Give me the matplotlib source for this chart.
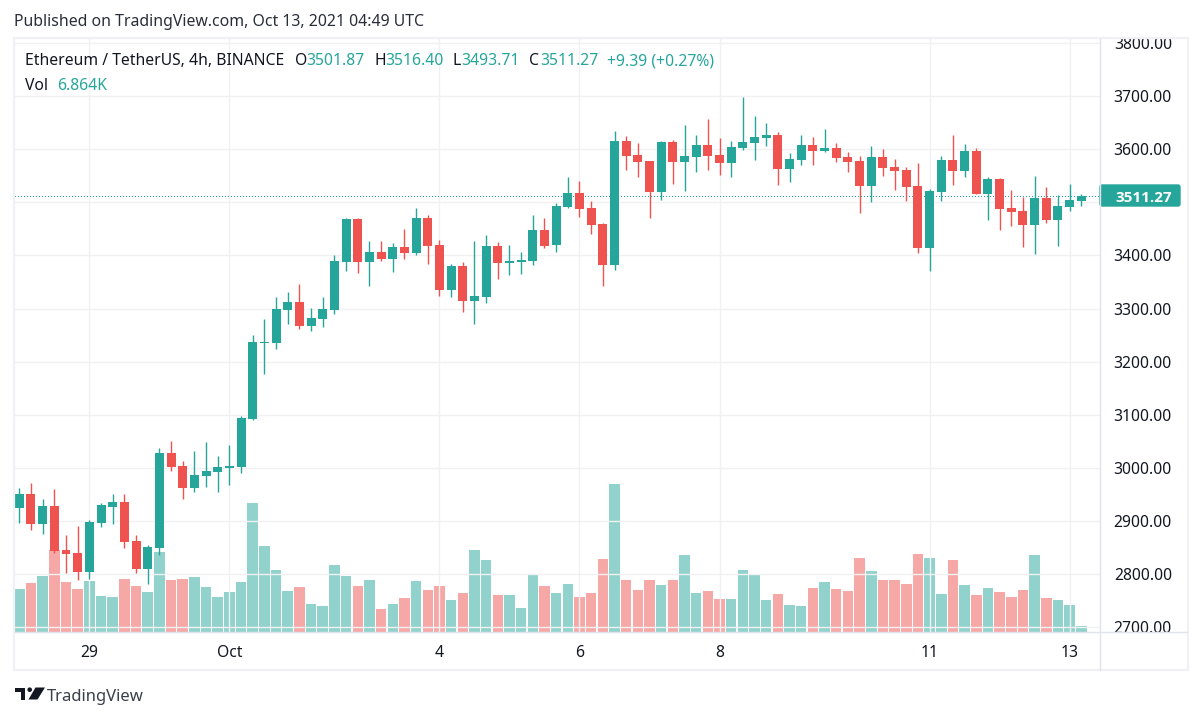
# Ethereum / TetherUS 4h candles with volume
import matplotlib
matplotlib.use("Agg")
import matplotlib.pyplot as plt
from matplotlib.patches import Polygon, Circle, Rectangle, FancyBboxPatch

# Data
opens = [2924.5, 2950.8, 2894.4, 2928.3, 2845.4, 2839.8, 2804.0, 2896.3, 2926.4, 2935.8,
         2862.4, 2809.7, 2849.2, 3028.0, 3003.5, 2962.1, 2984.7, 2992.2, 2999.8, 3001.6,
         3092.0, 3235.0, 3235.0, 3297.0, 3312.1, 3266.9, 3280.1, 3297.0, 3387.4, 3468.3,
         3387.4, 3406.2, 3393.0, 3415.6, 3404.3, 3470.2, 3419.4, 3334.7, 3379.8, 3314.0,
         3321.5, 3417.5, 3385.5, 3387.4, 3389.2, 3447.6, 3419.4, 3490.9, 3517.2, 3489.0,
         3458.9, 3381.7, 3615.1, 3588.9, 3577.6, 3519.2, 3613.3, 3575.7, 3585.1, 3607.7,
         3588.9, 3573.8, 3602.0, 3611.5, 3620.9, 3626.5, 3562.5, 3579.5, 3607.7, 3596.4,
         3602.0, 3585.1, 3577.6, 3530.5, 3585.1, 3566.3, 3560.6, 3530.5, 3413.8, 3519.2,
         3579.4, 3558.8, 3596.4, 3515.5, 3543.7, 3489.1, 3483.5, 3457.1, 3507.9, 3466.5,
         3491.0, 3501.87]
highs = [2962.1, 2971.5, 2941.4, 2960.2, 2873.7, 2890.6, 2901.9, 2933.9, 2950.8, 2950.8,
         2873.7, 2854.9, 3037.4, 3050.6, 3012.9, 3031.8, 3048.7, 3022.4, 3043.1, 3097.7,
         3250.1, 3280.2, 3321.6, 3330.9, 3346.0, 3300.8, 3321.5, 3400.5, 3470.2, 3470.2,
         3426.9, 3426.9, 3423.1, 3449.5, 3489.0, 3475.8, 3428.8, 3383.6, 3387.4, 3426.9,
         3438.2, 3425.0, 3419.4, 3406.2, 3475.8, 3470.2, 3498.4, 3547.3, 3539.8, 3502.2,
         3460.8, 3633.9, 3624.5, 3611.5, 3577.6, 3615.2, 3617.1, 3645.3, 3626.5, 3656.6,
         3620.9, 3615.2, 3698.0, 3662.3, 3649.1, 3632.2, 3592.6, 3626.5, 3622.8, 3637.8,
         3611.5, 3594.5, 3587.0, 3605.8, 3600.2, 3581.3, 3566.3, 3573.8, 3524.9, 3587.0,
         3626.5, 3609.6, 3602.0, 3547.5, 3545.6, 3523.0, 3509.8, 3549.3, 3528.6, 3513.6,
         3534.3, 3516.40]
lows = [2896.3, 2883.1, 2875.6, 2839.8, 2802.2, 2789.0, 2790.9, 2888.8, 2894.4, 2849.2,
        2802.2, 2781.5, 2836.0, 2994.1, 2941.4, 2954.6, 2964.0, 2954.6, 2967.8, 2990.4,
        3090.0, 3176.7, 3223.8, 3270.7, 3261.3, 3257.5, 3265.0, 3289.5, 3370.4, 3366.7,
        3342.2, 3389.2, 3368.5, 3393.0, 3400.5, 3383.6, 3323.4, 3321.5, 3293.3, 3270.7,
        3310.2, 3355.4, 3362.9, 3364.8, 3381.7, 3413.7, 3406.2, 3489.0, 3472.1, 3440.1,
        3342.2, 3372.3, 3560.5, 3547.5, 3470.3, 3504.2, 3534.3, 3521.1, 3556.9, 3560.6,
        3551.2, 3547.5, 3598.3, 3579.5, 3605.8, 3532.4, 3538.1, 3570.1, 3570.1, 3594.5,
        3575.7, 3556.9, 3479.7, 3500.4, 3549.4, 3523.0, 3502.3, 3404.4, 3370.6, 3502.3,
        3532.4, 3547.5, 3515.5, 3466.5, 3447.7, 3455.2, 3415.7, 3402.6, 3460.9, 3417.6,
        3483.5, 3493.71]
closes = [2950.8, 2894.4, 2928.3, 2843.6, 2837.9, 2804.0, 2898.1, 2930.1, 2935.8, 2860.5,
          2809.7, 2851.1, 3028.0, 3001.6, 2962.1, 2986.6, 2994.1, 3001.6, 3003.5, 3093.9,
          3236.9, 3236.9, 3299.0, 3312.1, 3266.9, 3282.0, 3298.9, 3389.2, 3468.3, 3387.4,
          3406.2, 3393.0, 3415.6, 3404.3, 3470.2, 3417.5, 3334.7, 3379.8, 3314.0, 3323.4,
          3417.5, 3385.5, 3389.2, 3391.1, 3447.6, 3417.5, 3492.8, 3517.2, 3487.1, 3457.0,
          3381.7, 3615.1, 3586.9, 3575.7, 3519.2, 3613.3, 3575.7, 3587.0, 3607.7, 3587.0,
          3573.8, 3603.9, 3613.3, 3622.8, 3626.5, 3562.5, 3581.3, 3607.7, 3596.4, 3602.0,
          3583.2, 3575.7, 3530.5, 3585.1, 3564.4, 3558.8, 3528.6, 3413.8, 3521.1, 3579.4,
          3558.8, 3596.4, 3515.5, 3543.7, 3487.2, 3481.6, 3457.1, 3507.9, 3466.5, 3492.9,
          3504.2, 3511.27]
volumes = [49.2, 56.1, 64.1, 93.8, 57.2, 49.2, 58.3, 41.2, 40.0, 60.6,
           52.6, 45.8, 91.5, 59.5, 60.6, 62.9, 51.5, 40.0, 45.8, 57.2,
           147.6, 98.4, 70.9, 46.9, 51.5, 32.0, 29.7, 76.6, 64.1, 52.6,
           59.5, 26.3, 32.0, 38.9, 58.3, 48.0, 52.6, 36.6, 44.6, 93.8,
           82.4, 42.3, 42.3, 27.5, 65.2, 52.6, 44.6, 54.9, 40.0, 44.6,
           83.5, 169.3, 59.5, 48.0, 59.5, 53.8, 59.5, 88.1, 44.6, 46.9,
           37.7, 37.7, 70.9, 65.2, 36.6, 43.5, 30.9, 29.7, 50.3, 57.2,
           49.2, 46.9, 84.6, 69.8, 59.5, 59.5, 54.9, 89.2, 84.6, 43.5,
           82.4, 53.8, 42.3, 50.3, 45.8, 40.0, 48.0, 88.1, 38.9, 36.6,
           30.9, 6.864]
price_ticks = [2700, 2800, 2900, 3000, 3100, 3200, 3300, 3400, 3500, 3600, 3700, 3800]
date_positions = [6, 18, 36, 48, 60, 78, 90]
date_labels = ["29", "Oct", "4", "6", "8", "11", "13"]
last_price = 3511.27

GREEN = "#26a69a"
RED = "#ef5350"
GRID = "#f1f1f4"
FRAME = "#f0f0f5"
BORDER = "#e0e3eb"
DARK = "#131722"
FONT = "Noto Sans"
FS = 11.3

plt.rcParams["font.family"] = FONT
W, H = 1202, 718
fig = plt.figure(figsize=(W / 100, H / 100), dpi=100, facecolor="white")


def px_axes(x0, y0, x1, y1):
    # axes placed by pixel edges, y measured from the top
    return fig.add_axes([x0 / W, 1 - y1 / H, (x1 - x0) / W, (y1 - y0) / H])


# Main pane
ax = px_axes(15, 39, 1100, 632)
ax.set_xlim(-0.37, 92.6)
ax.set_ylim(2691.2, 3807.2)
ax.set_xticks(date_positions)
ax.set_yticks(price_ticks)
ax.grid(True, color=GRID, linewidth=1)
ax.set_axisbelow(True)
ax.tick_params(length=0, labelbottom=False, labelleft=False)
for s in ax.spines.values():
    s.set_visible(False)

# Volume overlay on its own scale (thousands)
vol_ax = ax.twinx()
vol_ax.set_ylim(0, 678.4)
vol_ax.axis("off")

xs = list(range(len(closes)))
colors = [GREEN if c >= o else RED for o, c in zip(opens, closes)]
vol_ax.bar(xs, volumes, width=0.9, color=colors, alpha=0.5, linewidth=0, zorder=1)

# Candles go above the volume bars
ax.set_zorder(vol_ax.get_zorder() + 1)
ax.patch.set_visible(False)

ax.axhline(last_price, color=GREEN, linewidth=0.72, linestyle=(0, (1, 2.4)), zorder=1,
           antialiased=False)
ax.vlines(xs, lows, highs, colors=colors, linewidth=1.0, zorder=2)
ax.bar(xs, [abs(c - o) for o, c in zip(opens, closes)],
       bottom=[min(o, c) for o, c in zip(opens, closes)],
       width=0.77, color=colors, linewidth=0, zorder=3)

# Price scale, its labels get cut at the pane edges. 3500 sits under the price tag
scale = px_axes(1100, 39, 1188, 632)
scale.set_xlim(1100, 1188)
scale.set_ylim(ax.get_ylim())
scale.axis("off")
for p in price_ticks:
    if p == 3500:
        continue
    scale.text(1172, p, "%.2f" % p, ha="right", va="center_baseline", fontsize=FS,
               color=DARK, clip_on=True)

# Everything else in figure pixels
over = fig.add_axes([0, 0, 1, 1], zorder=10)
over.set_xlim(0, W)
over.set_ylim(H, 0)
over.axis("off")

over.add_patch(Rectangle((13.5, 38), 1174.5, 632, fill=False, edgecolor=FRAME, linewidth=1.6))
over.plot([1100, 1100], [39, 670], color=BORDER, linewidth=1)
over.plot([15, 1187], [632, 632], color=BORDER, linewidth=1)

for pos, lab in zip(date_positions, date_labels):
    px = 15 + (pos + 0.37) / 92.97 * 1085
    over.text(px, 651, lab, ha="center", va="center_baseline", fontsize=FS, color=DARK)

over.add_patch(FancyBboxPatch((1100, 185), 80, 21, boxstyle="round,pad=0,rounding_size=2",
                              facecolor=GREEN, edgecolor=GREEN, linewidth=1))
over.text(1172, 196, "3511.27", ha="right", va="center_baseline", fontsize=FS - 0.3,
          color="white", fontweight="bold", family="Open Sans")

over.text(14, 20, "Published on TradingView.com, Oct 13, 2021 04:49 UTC",
          va="center_baseline", fontsize=FS + 0.1, color="#2a2e39")
over.text(25, 59, "Ethereum / TetherUS, 4h, BINANCE", va="center_baseline", fontsize=FS, color=DARK)
for x_pos, lab, col in [(295, "O", DARK), (306.5, "3501.87", GREEN), (374, "H", DARK),
                        (385, "3516.40", GREEN), (453, "L", DARK), (461.5, "3493.71", GREEN),
                        (529, "C", DARK), (540, "3511.27", GREEN),
                        (607, "+9.39 (+0.27%)", GREEN)]:
    over.text(x_pos, 59, lab, va="center_baseline", fontsize=FS, color=col)
over.text(25, 84, "Vol", va="center_baseline", fontsize=FS, color=DARK)
over.text(57.5, 84, "6.864K", va="center_baseline", fontsize=FS, color=GREEN)

# TradingView logo
over.add_patch(Polygon([(14.5, 687.5), (25, 687.5), (25, 699.5), (20.5, 699.5),
                        (20.5, 691.7), (14.5, 691.7)], facecolor=DARK, edgecolor="none"))
over.add_patch(Circle((29.7, 689.7), 2.3, facecolor=DARK, edgecolor="none"))
over.add_patch(Polygon([(35.5, 687.5), (45, 687.5), (37.5, 699.5), (28.5, 699.5)],
                       facecolor=DARK, edgecolor="none"))
over.text(47, 695, "TradingView", va="center_baseline", fontsize=12, color="#3b3f4a")

fig.savefig("out.png", dpi=100)
